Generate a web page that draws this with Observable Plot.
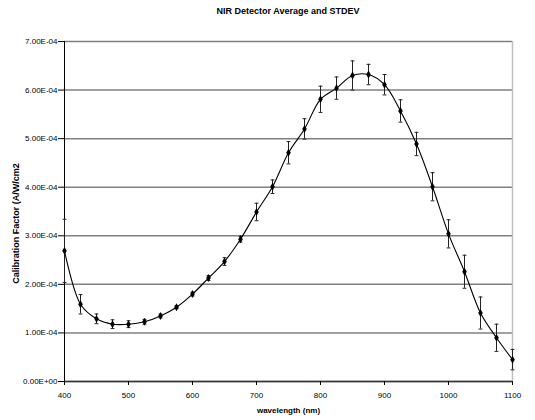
<!DOCTYPE html>
<html>
<head>
<meta charset="utf-8">
<script src="https://cdn.jsdelivr.net/npm/d3@7"></script>
<script src="https://cdn.jsdelivr.net/npm/@observablehq/plot@0.6"></script>
<style>
  html, body { margin: 0; padding: 0; background: #fff; }
  #title { width: 576px; height: 20px; text-align: center;
           font: bold 9px "Liberation Sans", Arial, sans-serif; line-height: 22px; color: #000; }
  svg { display: block; }
</style>
</head>
<body>
<div id="title">NIR Detector Average and STDEV</div>
<div id="chart"></div>
<script>
const wavelengths = [400,425,450,475,500,525,550,575,600,625,650,675,700,725,750,775,800,825,850,875,900,925,950,975,1000,1025,1050,1075,1100];
const averages = [2.69e-4,1.59e-4,1.29e-4,1.18e-4,1.18e-4,1.23e-4,1.35e-4,1.53e-4,1.80e-4,2.13e-4,2.47e-4,2.93e-4,3.49e-4,4.01e-4,4.71e-4,5.20e-4,5.81e-4,6.04e-4,6.30e-4,6.32e-4,6.11e-4,5.57e-4,4.89e-4,4.01e-4,3.04e-4,2.26e-4,1.41e-4,0.90e-4,0.45e-4];
const stdevs = [0.65e-4,0.20e-4,0.10e-4,0.09e-4,0.07e-4,0.05e-4,0.04e-4,0.03e-4,0.04e-4,0.05e-4,0.08e-4,0.06e-4,0.18e-4,0.14e-4,0.23e-4,0.21e-4,0.27e-4,0.23e-4,0.30e-4,0.21e-4,0.21e-4,0.23e-4,0.24e-4,0.29e-4,0.29e-4,0.34e-4,0.33e-4,0.28e-4,0.21e-4];
const xTicks = [400,500,600,700,800,900,1000,1100];
const yTicks = [0,1e-4,2e-4,3e-4,4e-4,5e-4,6e-4,7e-4];
const yTickLabels = ["0.00E+00","1.00E-04","2.00E-04","3.00E-04","4.00E-04","5.00E-04","6.00E-04","7.00E-04"];

const data = wavelengths.map((w, i) => ({w, avg: averages[i], sd: stdevs[i]}));
const capHalf = 3; // nm

const chart = Plot.plot({
  width: 535,
  height: 400,
  marginLeft: 64,
  marginRight: 23,
  marginTop: 21,
  marginBottom: 39,
  style: {fontFamily: "'Liberation Sans', Arial, sans-serif", fontSize: "8px", color: "#000", background: "#fff"},
  x: {domain: [400, 1100]},
  y: {domain: [0, 7e-4]},
  marks: [
    Plot.ruleY(yTicks, {stroke: "#808080", strokeWidth: 1.5}),
    Plot.ruleX([1100], {stroke: "#c0c0c0", strokeWidth: 1.5}),
    Plot.ruleX([400], {stroke: "#000", strokeWidth: 1}),
    Plot.ruleY([0], {stroke: "#333", strokeWidth: 1.5}),
    Plot.axisX({ticks: xTicks, tickSize: 4, tickPadding: 7, tickFormat: d => String(d),
      label: "wavelength (nm)", labelAnchor: "center", labelArrow: "none", labelOffset: 31}),
    Plot.axisY({ticks: yTicks, tickSize: 6, tickPadding: 1, tickFormat: (d, i) => yTickLabels[i],
      label: "Calibration Factor (A/W/cm2", labelAnchor: "center", labelArrow: "none", labelOffset: 52}),
    Plot.ruleX(data, {x: "w", y1: d => d.avg - d.sd, y2: d => d.avg + d.sd, stroke: "#222", strokeWidth: 1, clip: false}),
    Plot.link(data, {x1: d => d.w - capHalf, x2: d => d.w + capHalf, y1: d => d.avg + d.sd, y2: d => d.avg + d.sd, stroke: "#222", strokeWidth: 1}),
    Plot.link(data, {x1: d => d.w - capHalf, x2: d => d.w + capHalf, y1: d => d.avg - d.sd, y2: d => d.avg - d.sd, stroke: "#222", strokeWidth: 1}),
    Plot.line(data, {x: "w", y: "avg", curve: "catmull-rom", stroke: "#000", strokeWidth: 1.1}),
    Plot.dot(data, {x: "w", y: "avg", symbol: "diamond", fill: "#000", r: 2.4})
  ]
});
document.getElementById("chart").appendChild(chart);
// bold axis titles
chart.querySelectorAll("[aria-label='x-axis label'] text").forEach(t => t.setAttribute("font-weight", "bold"));
chart.querySelectorAll("[aria-label='y-axis label'] text").forEach(t => {
  t.setAttribute("font-weight", "bold");
  t.setAttribute("font-size", "9px");
  t.setAttribute("x", "-12");
});
</script>
</body>
</html>
